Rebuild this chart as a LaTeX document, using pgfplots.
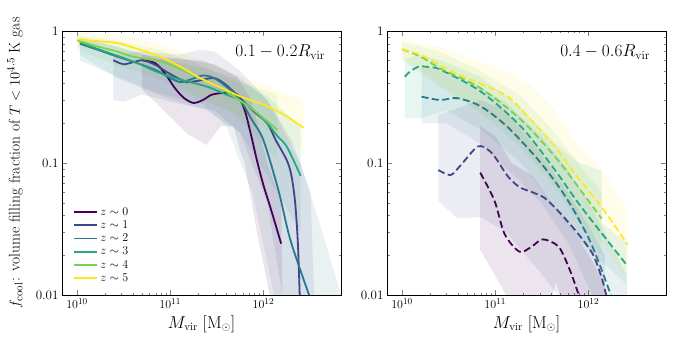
\documentclass[border=0pt]{standalone}
\usepackage{pgfplots}
\pgfplotsset{compat=1.18}
\definecolor{vz0}{HTML}{440154}
\definecolor{vz1}{HTML}{414487}
\definecolor{vz2}{HTML}{2A788E}
\definecolor{vz3}{HTML}{22A884}
\definecolor{vz4}{HTML}{7AD151}
\definecolor{vz5}{HTML}{FDE725}

\tikzset{
  cfband/.style={fill=#1, fill opacity=0.1, draw=none},
  cfsline/.style={draw=#1, line width=1.8pt},
  cfdline/.style={draw=#1, line width=1.8pt, dash pattern=on 7pt off 3.5pt},
}
\pgfplotsset{legend image code/.code={\draw[#1] (0pt,0pt) -- (23pt,0pt);}}

\begin{document}
\begin{tikzpicture}
\begin{axis}[
    width=279pt, height=264pt, scale only axis,
    xmode=log, ymode=log,
    xmin=6.9e9, xmax=6.8e12, ymin=0.01, ymax=1,
    xtick={1e10,1e11,1e12},
    ytick={0.01,0.1,1}, yticklabels={0.01,0.1,1},
    tick align=inside,
    major tick length=5pt, minor tick length=2.5pt,
    axis line style={black, line width=0.8pt},
    tick label style={font=\fontsize{13}{15}\selectfont},
    xlabel={$M_{\rm vir}\ [\mathrm{M}_\odot]$},
    xlabel style={font=\fontsize{16}{18}\selectfont, at={(axis description cs:0.5,0)}, anchor=center, yshift=-29pt},
    ylabel={$f_{\rm cool}$: volume filling fraction of $T<10^{4.5}$ K gas},
    ylabel style={font=\fontsize{15.5}{18}\selectfont, at={(axis description cs:-0.168,0.5)}, anchor=center},
    legend style={at={(0.03,0.03)}, anchor=south west, draw=none, fill=none,
      font=\fontsize{11.5}{13}\selectfont, row sep=0pt},
    legend cell align=left,
]
% bands
\addplot[cfband=vz5, forget plot] coordinates {(1e10,0.97) (2.69e10,0.93) (7.76e10,0.80) (2.09e11,0.60) (5.62e11,0.46) (1.1e12,0.38) (2.69e12,0.30)
  (2.69e12,0.12) (1.1e12,0.18) (5.62e11,0.23) (2.09e11,0.32) (7.76e10,0.48) (2.69e10,0.66) (1e10,0.76)};
\addplot[cfband=vz4, forget plot] coordinates {(1e10,0.93) (2.69e10,0.84) (7.76e10,0.72) (1.78e11,0.58) (4.79e11,0.42) (1.41e12,0.33)
  (1.41e12,0.105) (4.79e11,0.24) (1.78e11,0.32) (7.76e10,0.43) (2.69e10,0.55) (1e10,0.72)};
\addplot[cfband=vz3, forget plot] coordinates {(1.07e10,0.90) (2.69e10,0.76) (7.24e10,0.62) (2.45e11,0.52) (5.62e11,0.42) (1.1e12,0.32) (2.51e12,0.19)
  (2.51e12,0.03) (1.1e12,0.08) (5.62e11,0.17) (2.45e11,0.25) (7.24e10,0.33) (2.69e10,0.44) (1.07e10,0.66)};
\addplot[cfband=vz2, forget plot] coordinates {(1.07e10,0.88) (2.69e10,0.76) (7.24e10,0.62) (2.24e11,0.60) (5.62e11,0.44) (1.1e12,0.30) (2.5e12,0.10) (4e12,0.035) (6.8e12,0.01)
  (1.3e12,0.01) (7.6e11,0.06) (4e11,0.19) (2.24e11,0.28) (7.24e10,0.34) (2.69e10,0.45) (1.07e10,0.60)};
\addplot[cfband=vz1, forget plot] coordinates {(2.45e10,0.66) (5e10,0.70) (1.26e11,0.66) (2e11,0.72) (3e11,0.70) (5.6e11,0.50) (1.1e12,0.30) (2e12,0.15) (3.2e12,0.06) (3.5e12,0.01)
  (1.6e12,0.01) (1.1e12,0.05) (5.6e11,0.17) (3e11,0.25) (1.26e11,0.28) (5e10,0.33) (3.16e10,0.29) (2.45e10,0.30)};
\addplot[cfband=vz0, forget plot] coordinates {(5e10,0.66) (1.26e11,0.62) (3e11,0.56) (5.25e11,0.45) (7.4e11,0.30) (1.1e12,0.10) (1.55e12,0.05) (1.6e12,0.01)
  (1.17e12,0.01) (8.5e11,0.03) (6.3e11,0.10) (5.6e11,0.126) (4.8e11,0.19) (3.5e11,0.19) (2.45e11,0.137) (1.5e11,0.168) (7.24e10,0.28) (5e10,0.36)};
% lines
\addplot[cfsline=vz0, smooth] coordinates {(5.01e10,0.60) (6.92e10,0.57) (8.91e10,0.47) (1.12e11,0.37) (1.41e11,0.31) (1.78e11,0.285) (2.24e11,0.30) (2.82e11,0.33) (3.98e11,0.34) (5.25e11,0.33) (6.31e11,0.25) (7.41e11,0.16) (8.51e11,0.105) (1.0e12,0.068) (1.2e12,0.045) (1.55e12,0.0245)};
\addlegendentry{$z\sim0$}
\addplot[cfsline=vz1, smooth] coordinates {(2.45e10,0.60) (3.16e10,0.56) (3.98e10,0.58) (5.13e10,0.60) (7.08e10,0.55) (9.12e10,0.49) (1.2e11,0.44) (1.51e11,0.41) (2.0e11,0.42) (2.95e11,0.44) (3.98e11,0.39) (5.62e11,0.31) (7.94e11,0.245) (1.1e12,0.20) (1.35e12,0.15) (1.78e12,0.105) (2.0e12,0.08) (2.19e12,0.05) (2.34e12,0.025) (2.45e12,0.010)};
\addlegendentry{$z\sim1$}
\addplot[cfsline=vz2, smooth] coordinates {(1.07e10,0.80) (1.585e10,0.73) (2.69e10,0.64) (4.47e10,0.57) (7.24e10,0.50) (1.0e11,0.44) (1.29e11,0.41) (1.66e11,0.43) (2.24e11,0.46) (2.95e11,0.44) (3.98e11,0.38) (5.62e11,0.30) (7.59e11,0.21) (1.0e12,0.149) (1.45e12,0.062) (1.95e12,0.026) (3.09e12,0.010)};
\addlegendentry{$z\sim2$}
\addplot[cfsline=vz3, smooth] coordinates {(1.07e10,0.82) (1.585e10,0.74) (2.69e10,0.65) (4.47e10,0.57) (7.24e10,0.49) (1.26e11,0.43) (2.45e11,0.38) (3.98e11,0.33) (5.62e11,0.30) (7.94e11,0.25) (1.1e12,0.20) (1.41e12,0.16) (1.78e12,0.133) (2.51e12,0.080)};
\addlegendentry{$z\sim3$}
\addplot[cfsline=vz4, smooth] coordinates {(1e10,0.85) (1.585e10,0.77) (2.69e10,0.70) (3.98e10,0.64) (7.76e10,0.59) (1.26e11,0.52) (1.78e11,0.46) (2.82e11,0.40) (4.79e11,0.32) (7.94e11,0.25) (1.41e12,0.178)};
\addlegendentry{$z\sim4$}
\addplot[cfsline=vz5, smooth] coordinates {(1e10,0.865) (1.585e10,0.84) (2.69e10,0.81) (3.98e10,0.75) (7.76e10,0.64) (1.26e11,0.54) (2.09e11,0.44) (3.55e11,0.37) (5.62e11,0.32) (1.1e12,0.27) (1.78e12,0.225) (2.69e12,0.185)};
\addlegendentry{$z\sim5$}
\node[anchor=north east, font=\fontsize{17.5}{20}\selectfont] at (rel axis cs:0.955,0.96) {$0.1-0.2R_{\rm vir}$};
\end{axis}

\begin{axis}[
    at={(325pt,0pt)}, anchor=south west,
    width=279pt, height=264pt, scale only axis,
    xmode=log, ymode=log,
    xmin=6.9e9, xmax=6.8e12, ymin=0.01, ymax=1,
    xtick={1e10,1e11,1e12},
    ytick={0.01,0.1,1}, yticklabels={0.01,0.1,1},
    tick align=inside,
    major tick length=5pt, minor tick length=2.5pt,
    axis line style={black, line width=0.8pt},
    tick label style={font=\fontsize{13}{15}\selectfont},
    xlabel={$M_{\rm vir}\ [\mathrm{M}_\odot]$},
    xlabel style={font=\fontsize{16}{18}\selectfont, at={(axis description cs:0.5,0)}, anchor=center, yshift=-29pt},
]
% bands
\addplot[cfband=vz5] coordinates {(1e10,0.86) (2.5e10,0.76) (6.9e10,0.58) (1.35e11,0.50) (2.24e11,0.40) (4.37e11,0.25) (7e11,0.15) (1.38e12,0.09) (2.63e12,0.045)
  (2.63e12,0.013) (1.38e12,0.025) (7e11,0.045) (4.37e11,0.07) (2.24e11,0.12) (1.35e11,0.18) (6.9e10,0.25) (2.5e10,0.40) (1e10,0.62)};
\addplot[cfband=vz4] coordinates {(1e10,0.82) (2.5e10,0.70) (6.9e10,0.50) (1.9e11,0.32) (4.37e11,0.17) (7e11,0.11) (1.38e12,0.06)
  (1.38e12,0.02) (7e11,0.04) (4.37e11,0.065) (1.9e11,0.13) (6.9e10,0.24) (2.5e10,0.38) (1e10,0.60)};
\addplot[cfband=vz3] coordinates {(1.07e10,0.62) (1.6e10,0.66) (3e10,0.58) (6.9e10,0.45) (1.9e11,0.26) (4.37e11,0.14) (8e11,0.10) (1.38e12,0.088) (1.40e12,0.035) (2.57e12,0.025)
  (2.57e12,0.012) (8.3e11,0.025) (4.37e11,0.045) (1.9e11,0.10) (6.9e10,0.18) (3e10,0.25) (1.6e10,0.22) (1.07e10,0.22)};
\addplot[cfband=vz2] coordinates {(1.62e10,0.55) (3e10,0.48) (6.9e10,0.38) (1.35e11,0.28) (3.1e11,0.16) (6e11,0.09) (1.1e12,0.045) (2e12,0.02) (2.6e12,0.014)
  (2.6e12,0.01) (1.1e12,0.01) (6e11,0.025) (3.1e11,0.05) (1.35e11,0.09) (6.9e10,0.14) (3e10,0.20) (1.62e10,0.20)};
\addplot[cfband=vz1] coordinates {(2.45e10,0.23) (4e10,0.26) (6.9e10,0.30) (1.3e11,0.25) (3e11,0.12) (6e11,0.06) (1.1e12,0.03) (1.5e12,0.02)
  (1.5e12,0.008) (6e11,0.008) (3e11,0.015) (1.3e11,0.03) (6.9e10,0.039) (3.9e10,0.038) (2.45e10,0.052)};
\addplot[cfband=vz0] coordinates {(6.9e10,0.19) (1.0e11,0.16) (1.5e11,0.10) (2.5e11,0.08) (4e11,0.05) (7e11,0.03) (1.1e12,0.018) (1.5e12,0.012)
  (1.5e12,0.006) (5.5e11,0.008) (4.5e11,0.0125) (3.8e11,0.008) (2e11,0.006) (1.3e11,0.01) (1.0e11,0.014) (6.9e10,0.022)};
% lines
\addplot[cfdline=vz0, smooth] coordinates {(6.9e10,0.0845) (9.8e10,0.052) (1.26e11,0.029) (1.82e11,0.0213) (2.45e11,0.0232) (3.24e11,0.0264) (4.79e11,0.0232) (6.31e11,0.0155) (7.76e11,0.0103)};
\addplot[cfdline=vz1, smooth] coordinates {(2.45e10,0.0885) (3.31e10,0.081) (4.2e10,0.095) (6.46e10,0.133) (8.5e10,0.125) (1.05e11,0.105) (1.35e11,0.08) (1.8e11,0.066) (2.5e11,0.060) (3.3e11,0.055) (4.37e11,0.046) (7.2e11,0.031) (1.1e12,0.0207) (1.38e12,0.0137) (1.55e12,0.01)};
\addplot[cfdline=vz2, smooth] coordinates {(1.62e10,0.318) (2.57e10,0.30) (3.9e10,0.31) (6.9e10,0.27) (1.35e11,0.188) (3.09e11,0.10) (6.03e11,0.052) (1.07e12,0.0245) (1.74e12,0.01)};
\addplot[cfdline=vz3, smooth] coordinates {(1.07e10,0.45) (1.25e10,0.50) (1.55e10,0.54) (2.0e10,0.53) (2.57e10,0.51) (6.9e10,0.35) (1.9e11,0.188) (4.37e11,0.0885) (8.32e11,0.0467) (2.57e12,0.0169)};
\addplot[cfdline=vz4, smooth] coordinates {(1e10,0.726) (1.585e10,0.64) (2.57e10,0.52) (6.9e10,0.37) (1.9e11,0.212) (4.37e11,0.112) (7.08e11,0.072) (1.38e12,0.038)};
\addplot[cfdline=vz5, smooth] coordinates {(1e10,0.726) (1.585e10,0.66) (2.57e10,0.55) (4.0e10,0.47) (6.9e10,0.40) (1.35e11,0.32) (2.24e11,0.224) (4.37e11,0.133) (7.08e11,0.0836) (1.38e12,0.0467) (2.63e12,0.024)};
\node[anchor=north east, font=\fontsize{17.5}{20}\selectfont] at (rel axis cs:0.955,0.96) {$0.4-0.6R_{\rm vir}$};
\end{axis}
\path (-62pt,-50pt) rectangle (616pt,295pt);
\end{tikzpicture}
\end{document}
